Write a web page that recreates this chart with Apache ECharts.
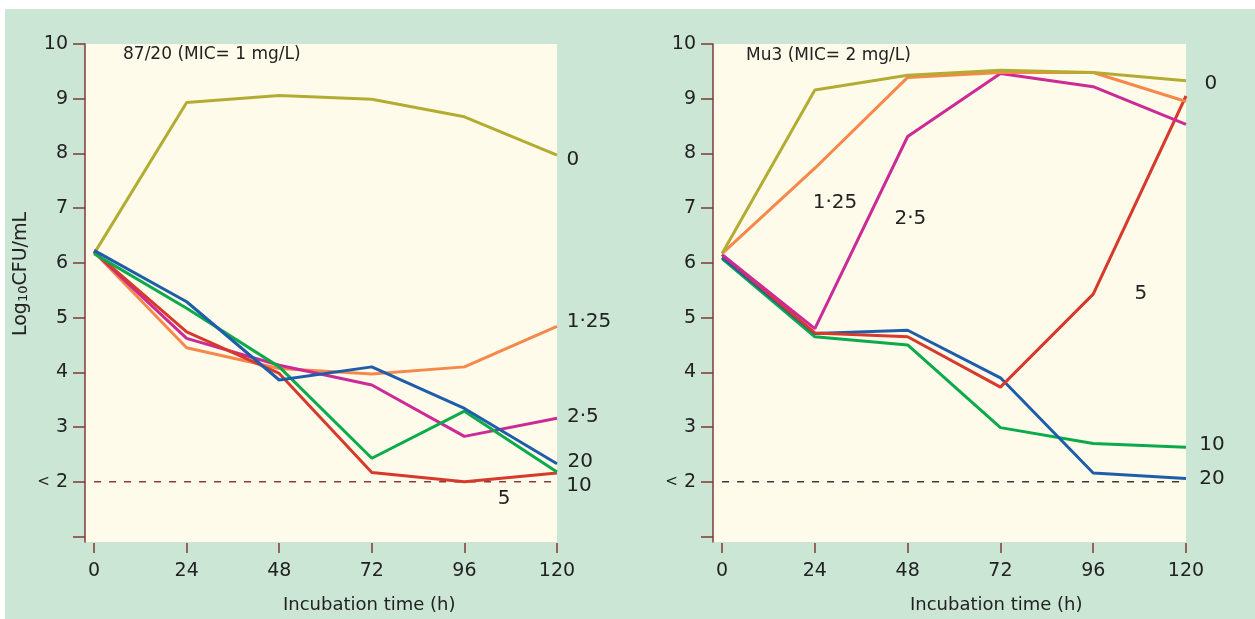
<!DOCTYPE html>
<html>
<head>
<meta charset="utf-8">
<script src="https://cdn.jsdelivr.net/npm/echarts@6/dist/echarts.min.js"></script>
<style>
  html, body { margin: 0; padding: 0; background: #ffffff; }
  #bg { position: absolute; left: 5px; top: 9px; width: 1250px; height: 610px; background: #cce6d6; }
  #chart { position: absolute; left: 0; top: 0; width: 1255px; height: 619px; }
</style>
</head>
<body>
<div id="bg"></div>
<div id="chart"></div>
<script>
// sampling times (h)
const hours = [0, 24, 48, 72, 96, 120];
const xTicks = [0, 24, 48, 72, 96, 120];
const yTicks = [1, 2, 3, 4, 5, 6, 7, 8, 9, 10];
const yLabels = [2, 3, 4, 5, 6, 7, 8, 9, 10];
const detectionLimit = 2;

// concentrations (mg/L) for each curve
const concs = ['0', '1·25', '2·5', '5', '10', '20'];

// strain 87/20, log10 CFU/mL
const left0 = [6.17, 8.93, 9.06, 8.99, 8.67, 7.97];
const left125 = [6.2, 4.45, 4.07, 3.97, 4.10, 4.84];
const left25 = [6.2, 4.62, 4.13, 3.77, 2.83, 3.16];
const left5 = [6.2, 4.74, 3.98, 2.17, 2.0, 2.16];
const left10 = [6.17, 5.17, 4.10, 2.43, 3.29, 2.18];
const left20 = [6.23, 5.29, 3.86, 4.10, 3.34, 2.33];

// strain Mu3, log10 CFU/mL
const right0 = [6.17, 9.16, 9.43, 9.52, 9.48, 9.33];
const right125 = [6.17, 7.73, 9.39, 9.48, 9.48, 8.95];
const right25 = [6.15, 4.80, 8.31, 9.46, 9.22, 8.53];
const right5 = [6.15, 4.72, 4.65, 3.73, 5.43, 9.05];
const right10 = [6.08, 4.65, 4.50, 2.99, 2.70, 2.63];
const right20 = [6.1, 4.71, 4.77, 3.90, 2.16, 2.06];

// curve labels: [text, hour, log10 value]
const leftNotes = [['0', 124.1, 7.88], ['1·25', 128.3, 4.92], ['2·5', 126.7, 3.18],
  ['20', 126.0, 2.36], ['10', 125.7, 1.93], ['5', 106.3, 1.69]];
const rightNotes = [['0', 126.4, 9.27], ['1·25', 29.2, 7.10], ['2·5', 48.7, 6.81],
  ['5', 108.3, 5.44], ['10', 126.7, 2.67], ['20', 126.7, 2.06]];

const FONT = 'DejaVu Sans';
const TEXT = '#222222';
const AXIS = '#7d3b34';
const CREAM = '#fffbea';

const colors = {
  '0': '#b3ac32',
  '1·25': '#f5884a',
  '2·5': '#cc2a96',
  '5': '#d63a2c',
  '10': '#0bab4b',
  '20': '#1e5daa'
};

const chart = echarts.init(document.getElementById('chart'));

function pairs(values) {
  return values.map((v, i) => [hours[i], v]);
}

function curve(name, values, idx) {
  return {
    name: name,
    type: 'line',
    xAxisIndex: idx,
    yAxisIndex: idx,
    data: pairs(values),
    symbol: 'none',
    silent: true,
    lineStyle: { color: colors[name], width: 3 },
    itemStyle: { color: colors[name] }
  };
}

function xAxisFor(idx) {
  return {
    type: 'value',
    gridIndex: idx,
    min: -2.35,
    max: 120,
    offset: 1,
    axisLine: { show: false, onZero: false },
    axisTick: {
      show: true,
      customValues: xTicks,
      length: 10,
      lineStyle: { color: AXIS, width: 1.5 }
    },
    axisLabel: {
      customValues: xTicks,
      margin: 19,
      fontSize: 19,
      fontFamily: FONT,
      color: TEXT
    },
    splitLine: { show: false }
  };
}

function yAxisFor(idx) {
  return {
    type: 'value',
    gridIndex: idx,
    min: 0.9,
    max: 10,
    axisLine: { show: true, onZero: false, lineStyle: { color: AXIS, width: 1.5 } },
    axisTick: {
      show: true,
      customValues: yTicks,
      length: 12,
      lineStyle: { color: AXIS, width: 1.5 }
    },
    axisLabel: {
      customValues: yLabels,
      margin: 17,
      fontSize: 19,
      fontFamily: FONT,
      color: TEXT,
      formatter: v => (v === detectionLimit ? '{s|<} 2' : String(v)),
      rich: { s: { fontSize: 15, fontFamily: FONT, color: TEXT } }
    },
    splitLine: { show: false }
  };
}

function limitLine(idx, color) {
  return {
    name: 'limit',
    type: 'line',
    xAxisIndex: idx,
    yAxisIndex: idx,
    data: [[hours[0], detectionLimit], [hours[hours.length - 1], detectionLimit]],
    symbol: 'none',
    silent: true,
    lineStyle: { color: color, width: 1.4, type: [7, 8] }
  };
}

function notes(idx, list) {
  return {
    type: 'scatter',
    xAxisIndex: idx,
    yAxisIndex: idx,
    symbolSize: 0,
    clip: false,
    silent: true,
    itemStyle: { color: 'transparent', opacity: 1 },
    data: list.map(n => ({ name: n[0], value: [n[1], n[2]] })),
    label: {
      show: true,
      position: 'inside',
      formatter: '{b}',
      fontSize: 20,
      fontFamily: FONT,
      color: TEXT,
      textBorderWidth: 0
    }
  };
}

const option = {
  animation: false,
  backgroundColor: 'transparent',
  textStyle: { fontFamily: FONT },
  title: [
    { text: '87/20 (MIC= 1 mg/L)', left: 123, top: 46, padding: 0,
      textStyle: { fontSize: 17, fontWeight: 'normal', color: TEXT, fontFamily: FONT } },
    { text: 'Mu3 (MIC= 2 mg/L)', left: 746, top: 47, padding: 0,
      textStyle: { fontSize: 17, fontWeight: 'normal', color: TEXT, fontFamily: FONT } },
    { text: 'Incubation time (h)', left: 283, top: 596, padding: 0,
      textStyle: { fontSize: 18, fontWeight: 'normal', color: TEXT, fontFamily: FONT } },
    { text: 'Incubation time (h)', left: 910, top: 596, padding: 0,
      textStyle: { fontSize: 18, fontWeight: 'normal', color: TEXT, fontFamily: FONT } }
  ],
  graphic: [
    {
      type: 'text',
      x: 21,
      y: 274,
      rotation: Math.PI / 2,
      silent: true,
      style: {
        text: '{a|Log}{b|10}{a|CFU/mL}',
        fill: TEXT,
        align: 'center',
        verticalAlign: 'middle',
        rich: {
          a: { fontSize: 19, fontFamily: FONT, fill: TEXT, lineHeight: 19, verticalAlign: 'bottom' },
          b: { fontSize: 13, fontFamily: FONT, fill: TEXT, lineHeight: 8, verticalAlign: 'bottom' }
        }
      }
    }
  ],
  grid: [
    { left: 85, top: 44, width: 472, height: 498, show: true, backgroundColor: CREAM, borderWidth: 0 },
    { left: 713, top: 44, width: 473, height: 498, show: true, backgroundColor: CREAM, borderWidth: 0 }
  ],
  xAxis: [xAxisFor(0), xAxisFor(1)],
  yAxis: [yAxisFor(0), yAxisFor(1)],
  series: [
    limitLine(0, '#8b3a36'),
    curve('0', left0, 0),
    curve('1·25', left125, 0),
    curve('2·5', left25, 0),
    curve('5', left5, 0),
    curve('10', left10, 0),
    curve('20', left20, 0),
    notes(0, leftNotes),

    limitLine(1, '#3a3a3a'),
    curve('10', right10, 1),
    curve('20', right20, 1),
    curve('5', right5, 1),
    curve('2·5', right25, 1),
    curve('1·25', right125, 1),
    curve('0', right0, 1),
    notes(1, rightNotes)
  ]
};

chart.setOption(option);
</script>
</body>
</html>
